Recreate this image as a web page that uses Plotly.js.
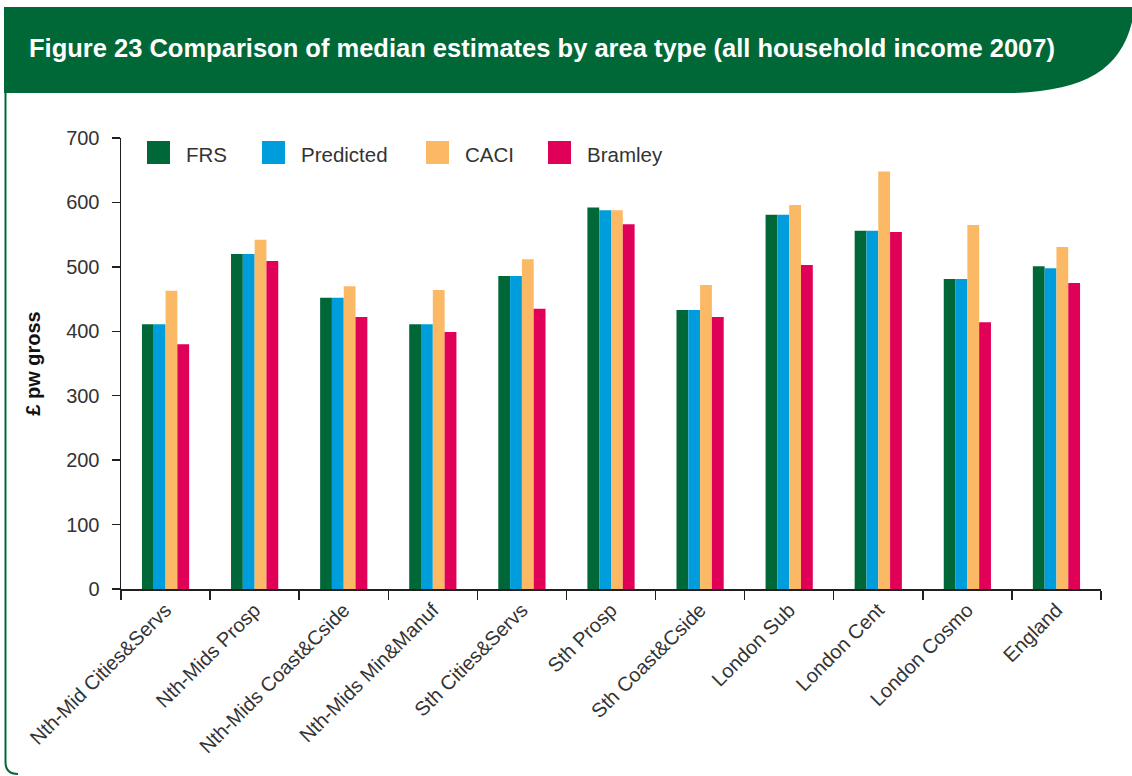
<!DOCTYPE html>
<html>
<head>
<meta charset="utf-8">
<script src="https://cdn.plot.ly/plotly-3.0.1.min.js"></script>
<style>
  html, body { margin: 0; padding: 0; background: #ffffff; }
  #chart { width: 1132px; height: 776px; }
</style>
</head>
<body>
<div id="chart"></div>
<script>
const categories = ["Nth-Mid Cities&Servs", "Nth-Mids Prosp", "Nth-Mids Coast&Cside", "Nth-Mids Min&Manuf",
  "Sth Cities&Servs", "Sth Prosp", "Sth Coast&Cside", "London Sub", "London Cent", "London Cosmo", "England"];
const seriesNames = ["FRS", "Predicted", "CACI", "Bramley"];
const frs       = [411, 520, 452, 411, 486, 592, 433, 581, 556, 481, 501];
const predicted = [411, 520, 452, 411, 486, 588, 433, 581, 556, 481, 498];
const caci      = [463, 542, 470, 464, 512, 588, 472, 596, 648, 565, 531];
const bramley   = [380, 509, 422, 399, 435, 566, 422, 503, 554, 414, 475];
const colors = ["#006838", "#009ddc", "#fbb966", "#e00057"];
const titleText = "Figure 23 Comparison of median estimates by area type (all household income 2007)";
const yTitle = "£ pw gross";

const W = 1132, H = 776;
const M = {l: 121, r: 31, t: 138, b: 187};
const PW = W - M.l - M.r, PH = H - M.t - M.b;
const px = x => (x - M.l) / PW;
const py = y => (H - M.b - y) / PH;

const seriesValues = [frs, predicted, caci, bramley];
const traces = seriesNames.map((name, i) => ({
  type: "bar",
  name: name,
  x: categories,
  y: seriesValues[i],
  marker: {color: colors[i], line: {width: 0}},
  showlegend: false,
  hoverinfo: "x+y+name"
}));

const FONT = "Liberation Sans, Arial, Helvetica, sans-serif";

const headerPath = `M ${px(4)},${py(7)} L ${px(1132)},${py(7)} L ${px(1132)},${py(22)} ` +
  `C ${px(1120)},${py(70)} ${px(1085)},${py(90)} ${px(1015)},${py(93)} L ${px(4)},${py(93)} Z`;
const borderPath = `M ${px(5.5)},${py(93)} L ${px(5.5)},${py(762)} Q ${px(5.5)},${py(774)} ${px(18)},${py(774)}`;

const shapes = [
  {type: "path", xref: "paper", yref: "paper", path: headerPath, fillcolor: "#006837", line: {width: 0}, layer: "below"},
  {type: "path", xref: "paper", yref: "paper", path: borderPath, line: {color: "#006837", width: 2}, layer: "below"}
];

// custom legend (large swatches)
const legX = [147, 262, 426, 548];
const annotations = [
  {xref: "paper", yref: "paper", x: px(27), y: py(48), xanchor: "left", yanchor: "middle",
   text: titleText, showarrow: false, font: {family: FONT, size: 25.5, color: "#ffffff", weight: "bold"}}
];
seriesNames.forEach((name, i) => {
  shapes.push({type: "rect", xref: "paper", yref: "paper",
    x0: px(legX[i]), x1: px(legX[i] + 23), y0: py(141), y1: py(164),
    fillcolor: colors[i], line: {width: 0}});
  annotations.push({xref: "paper", yref: "paper", x: px(legX[i] + 37), y: py(154),
    xanchor: "left", yanchor: "middle", text: name, showarrow: false,
    font: {family: FONT, size: 20.5, color: "#333333"}});
});

const layout = {
  width: W, height: H,
  margin: M,
  paper_bgcolor: "#ffffff", plot_bgcolor: "#ffffff",
  font: {family: FONT, color: "#333333"},
  barmode: "group",
  bargap: 0.47,
  bargroupgap: 0,
  showlegend: false,
  xaxis: {
    type: "category",
    showgrid: false, zeroline: false,
    showline: true, linecolor: "#231f20", linewidth: 1.5,
    ticks: "outside", ticklen: 9, tickwidth: 1.5, tickcolor: "#231f20",
    tickson: "boundaries",
    tickangle: -45,
    tickfont: {family: FONT, size: 20, color: "#333333"},
    automargin: false
  },
  yaxis: {
    range: [0, 700], dtick: 100, tick0: 0,
    showgrid: false, zeroline: false,
    showline: true, linecolor: "#231f20", linewidth: 1.5,
    ticks: "outside", ticklen: 8, tickwidth: 1.5, tickcolor: "#231f20",
    ticklabelstandoff: 8,
    tickfont: {family: FONT, size: 20, color: "#333333"},
    title: {text: yTitle, font: {family: FONT, size: 20, color: "#111111", weight: "bold"}, standoff: 20},
    automargin: false
  },
  shapes: shapes,
  annotations: annotations
};

Plotly.newPlot("chart", traces, layout, {displayModeBar: false, staticPlot: true});
</script>
</body>
</html>
